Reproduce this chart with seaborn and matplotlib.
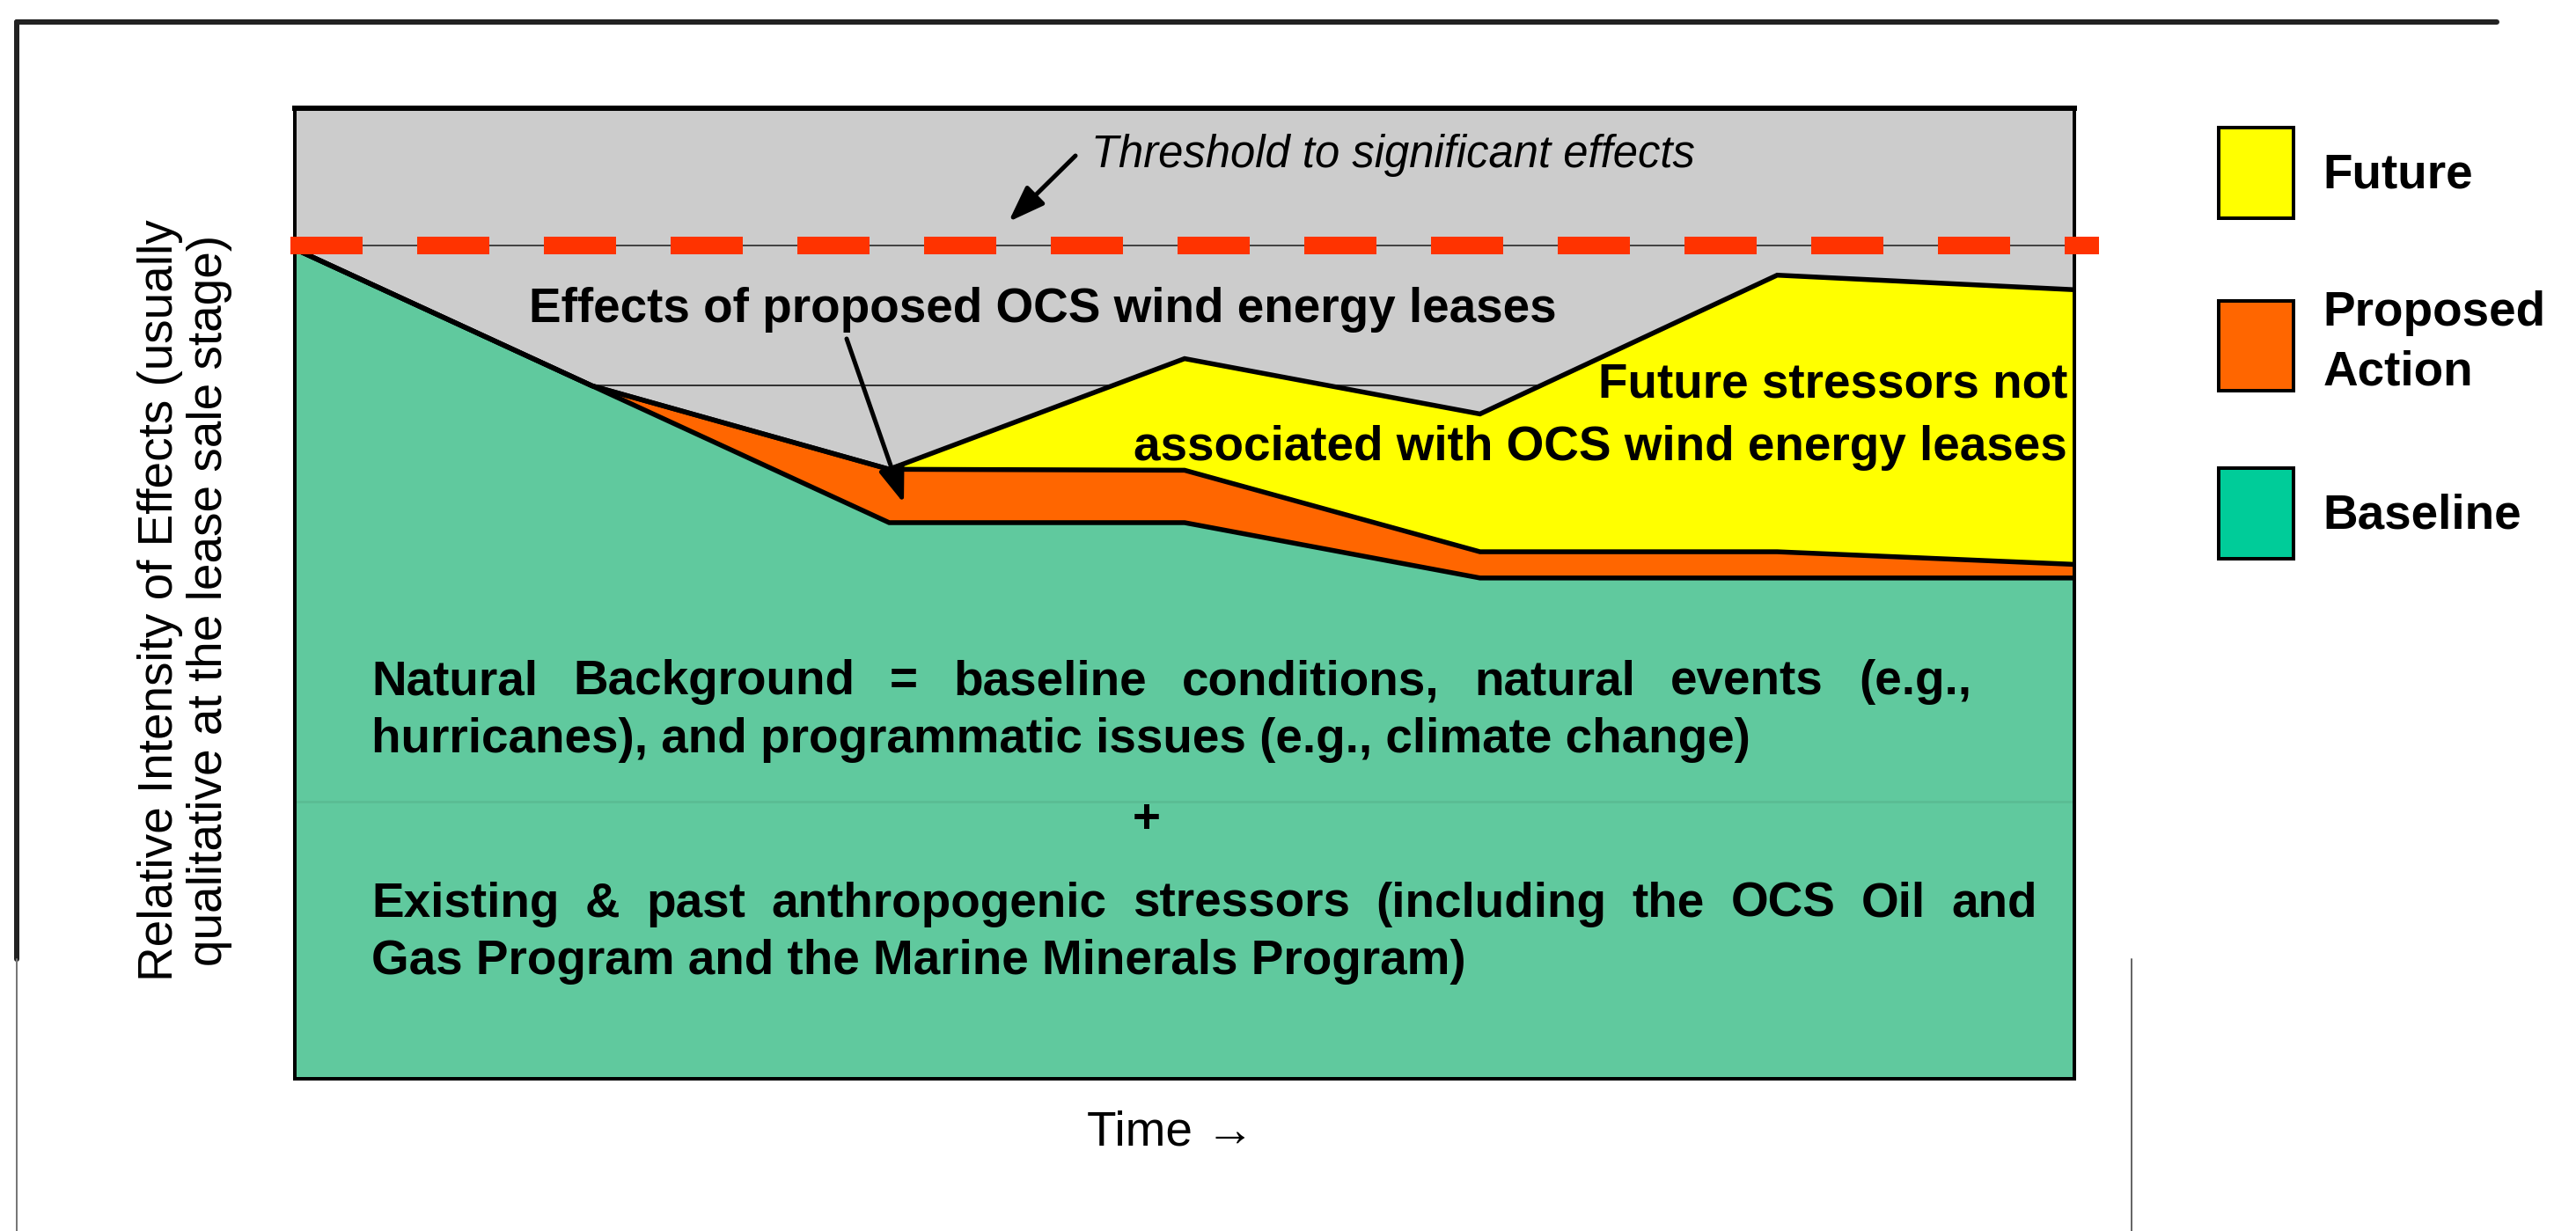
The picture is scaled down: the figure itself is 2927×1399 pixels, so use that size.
import numpy as np
import pandas as pd
import matplotlib
matplotlib.use("Agg")
import matplotlib.pyplot as plt
from matplotlib.lines import Line2D
from matplotlib.patches import Patch
import seaborn as sns

# ---------------- data ----------------
time_points = [0.0, 16.7, 33.4, 50.0, 66.6, 83.3, 100.0]
baseline_top = [85.5, 71.4, 57.3, 57.3, 51.6, 51.6, 51.6]
proposed_top = [85.5, 71.4, 62.8, 62.7, 54.3, 54.3, 53.0]
future_top = [85.5, 71.4, 62.8, 74.2, 68.5, 82.8, 81.3]
threshold_level = 85.9
guide_level_upper = 71.4
guide_level_lower = 28.6

legend_labels = ["Future", "Proposed\nAction", "Baseline"]
legend_colors = ["#FFFF00", "#FF6600", "#00CC99"]

threshold_text = "Threshold to significant effects"
effects_text = "Effects of proposed OCS wind energy leases"
future_text = ["Future stressors not", "associated with OCS wind energy leases"]
background_text = [
    "Natural Background = baseline conditions, natural events (e.g.,",
    "hurricanes), and programmatic issues (e.g., climate change)",
]
plus_text = "+"
existing_text = [
    "Existing & past anthropogenic stressors (including the OCS Oil and",
    "Gas Program and the Marine Minerals Program)",
]
y_label = "Relative Intensity of Effects (usually\nqualitative at the lease sale stage)"
x_label = "Time \u2192"

# ---------------- style ----------------
sns.set_theme(style="white")
plt.rcParams["font.family"] = ["Liberation Sans", "DejaVu Sans"]
plt.rcParams["text.color"] = "black"
plt.rcParams["axes.labelcolor"] = "black"

W, H = 2927, 1399
DPI = 100
PX = 72.0 / DPI  # points per pixel

GREEN = "#60C99E"
ORANGE = "#FF6600"
YELLOW = "#FFFF00"
GRAY_BG = "#CCCCCC"
RED = "#FF3300"
FS = 39.5

fig = plt.figure(figsize=(W / DPI, H / DPI), dpi=DPI)
ax_l, ax_r, ax_t, ax_b = 335, 2357, 123, 1226
ax = fig.add_axes([ax_l / W, 1 - ax_b / H, (ax_r - ax_l) / W, (ax_b - ax_t) / H])
ax.set_facecolor(GRAY_BG)
ax.set_xticks([])
ax.set_yticks([])
for s in ax.spines.values():
    s.set_color("black")
    s.set_linewidth(4 * PX)
    s.set_visible(True)
ax.spines["top"].set_linewidth(6 * PX)

# guide line under the areas
ax.axhline(guide_level_upper, color="#333333", lw=2 * PX, zorder=0.8)

# stacked areas
t = np.array(time_points)
b = np.array(baseline_top)
p = np.array(proposed_top)
f = np.array(future_top)
ax.fill_between(t, 0, b, color=GREEN, lw=0, zorder=1)
ax.fill_between(t, b, p, color=ORANGE, lw=0, zorder=1)
ax.fill_between(t, p, f, color=YELLOW, lw=0, zorder=1)

# faint guide line over the baseline area
ax.axhline(guide_level_lower, color="black", alpha=0.06, lw=3 * PX, zorder=1.5)

# black outlines with seaborn
df = pd.concat([
    pd.DataFrame({"time": t, "level": b, "layer": "Baseline"}),
    pd.DataFrame({"time": t, "level": p, "layer": "Proposed Action"}),
    pd.DataFrame({"time": t, "level": f, "layer": "Future"}),
])
sns.lineplot(data=df, x="time", y="level", hue="layer",
             palette=["black", "black", "black"], estimator=None, sort=False,
             legend=False, lw=5.5 * PX, ax=ax, zorder=2,
             solid_joinstyle="miter")
ax.set_xlim(0, 100)
ax.set_ylim(0, 100)
ax.set_xlabel("")
ax.set_ylabel("")

# threshold line: thin gray + red thick dashes
ax.axhline(threshold_level, color="#444444", lw=2 * PX, zorder=2.5)
thr = Line2D([-0.0025, 1.014], [threshold_level, threshold_level],
             transform=ax.get_yaxis_transform(), color=RED, lw=20 * PX,
             dashes=(4.1, 3.1), dash_capstyle="butt", clip_on=False, zorder=3)
ax.add_line(thr)


def axx(px):
    return (px - ax_l) / (ax_r - ax_l)


def axy(py):
    return (ax_b - py) / (ax_b - ax_t)


renderer = fig.canvas.get_renderer()


def justified_line(text, x0, x1, y, **kw):
    words = text.split(" ")
    arts = [ax.text(0, 0, w, transform=ax.transAxes, va="baseline",
                    ha="left", zorder=4, **kw) for w in words]
    widths = [a.get_window_extent(renderer).width for a in arts]
    gap = (x1 - x0 - sum(widths)) / max(len(words) - 1, 1)
    x = x0
    for a, w in zip(arts, widths):
        a.set_position((axx(x), axy(y)))
        x += w + gap


# texts
ax.text(axx(1240), axy(190), threshold_text, transform=ax.transAxes,
        fontsize=36.5, style="italic", va="baseline", ha="left", zorder=4)
ax.text(axx(601), axy(366), effects_text, transform=ax.transAxes,
        fontsize=FS, weight="bold", va="baseline", ha="left", zorder=4)
for txt, py in zip(future_text, [452, 523]):
    ax.text(axx(2349), axy(py), txt, transform=ax.transAxes,
            fontsize=FS, weight="bold", va="baseline", ha="right", zorder=4)

bold = dict(fontsize=FS, weight="bold")
justified_line(background_text[0], 422, 2240, 789, **bold)
ax.text(axx(422), axy(855), background_text[1], transform=ax.transAxes,
        va="baseline", ha="left", zorder=4, **bold)
ax.text(axx(1303), axy(932), plus_text, transform=ax.transAxes,
        va="center", ha="center", zorder=4, **bold)
justified_line(existing_text[0], 422, 2315, 1042, **bold)
ax.text(axx(422), axy(1107), existing_text[1], transform=ax.transAxes,
        va="baseline", ha="left", zorder=4, **bold)

# arrows
arrow_kw = dict(arrowstyle="-|>,head_length=1.25,head_width=0.45",
                color="black", lw=5 * PX, mutation_scale=20,
                shrinkA=0, shrinkB=0)
ax.annotate("", xy=(axx(1146), axy(252)), xytext=(axx(1222), axy(177)),
            xycoords="axes fraction", textcoords="axes fraction",
            arrowprops=arrow_kw, zorder=5)
ax.annotate("", xy=(axx(1027), axy(572)), xytext=(axx(962), axy(385)),
            xycoords="axes fraction", textcoords="axes fraction",
            arrowprops=arrow_kw, zorder=5)

# axis labels (placed as text relative to the axes)
ax.text(axx(210), axy(682), y_label, transform=ax.transAxes, rotation=90,
        ha="center", va="center", multialignment="center",
        fontsize=FS, linespacing=1.12, clip_on=False)
ax.text(axx(1330), axy(1288), x_label, transform=ax.transAxes,
        ha="center", va="center", fontsize=FS, clip_on=False)

# legend
handles = [Patch(facecolor=c, edgecolor="black", linewidth=4 * PX) for c in legend_colors]
leg = fig.legend(handles, legend_labels, loc="upper left",
                 bbox_to_anchor=(2521 / W, 1 - 145 / H), frameon=False,
                 prop={"size": FS, "weight": "bold"},
                 handlelength=85 / 55, handleheight=2.5, handletextpad=0.62,
                 labelspacing=1.5, borderpad=0, borderaxespad=0)
for txt in leg.get_texts():
    txt.set_linespacing(1.4)

# page frame decorations
fig.add_artist(Line2D([19 / W, 2837 / W], [1 - 25 / H, 1 - 25 / H],
                      transform=fig.transFigure, color="#222222", lw=6 * PX))
fig.add_artist(Line2D([19 / W, 19 / W], [1 - 25 / H, 1 - 1090 / H],
                      transform=fig.transFigure, color="#222222", lw=6 * PX))
fig.add_artist(Line2D([19 / W, 19 / W], [1 - 1090 / H, 0],
                      transform=fig.transFigure, color="#777777", lw=2 * PX))
fig.add_artist(Line2D([2422 / W, 2422 / W], [1 - 1090 / H, 0],
                      transform=fig.transFigure, color="#666666", lw=2 * PX))

fig.savefig("out.png", dpi=DPI, facecolor="white")
